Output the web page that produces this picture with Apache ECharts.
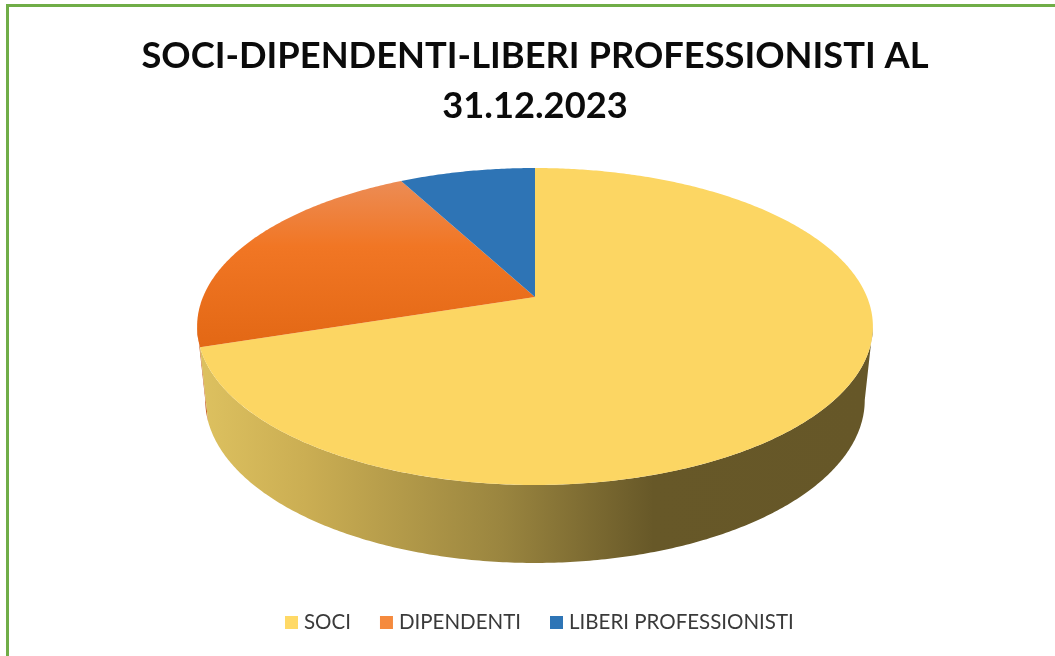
<!DOCTYPE html>
<html><head><meta charset="utf-8">
<style>html,body{margin:0;padding:0;background:#fff}#c{width:1055px;height:656px}</style>
<script src="https://cdn.jsdelivr.net/npm/echarts@6/dist/echarts.min.js"></script>
</head><body><div id="c"></div>
<script>
const categories = ['SOCI', 'DIPENDENTI', 'LIBERI PROFESSIONISTI'];
const values = [63, 20, 7];
const titleLines = ['SOCI-DIPENDENTI-LIBERI PROFESSIONISTI AL', '31.12.2023'];

const total = values.reduce((a, b) => a + b, 0);
const startFrac = [];
values.reduce((acc, v, i) => { startFrac[i] = acc / total; return acc + v; }, 0);

const persp = 0.186;
const topFace = {cx: 535, y0: 297, a: 332, b: 153};
const botFace = {cx: 535, y0: 369.7, a: 324, b: 157.3};
// angular range of the rim that faces the viewer (between the two silhouette tangents)
const frontLo = Math.acos(-persp), frontHi = Math.PI * 2 - frontLo;

function proj(f, ang) {
  const u = Math.sin(ang), v = Math.cos(ang), w = 1 + persp * v;
  return [f.cx + f.a * u / w, f.y0 - f.b * v / w];
}
function arc(f, a0, a1) {
  const n = Math.max(2, Math.ceil((a1 - a0) / 0.01));
  const pts = [];
  for (let i = 0; i <= n; i++) pts.push(proj(f, a0 + (a1 - a0) * i / n));
  return pts;
}
function grad(x, y, x2, y2, stops) {
  return {type: 'linear', x, y, x2, y2, global: true,
    colorStops: stops.map(s => ({offset: s[0], color: s[1]}))};
}
const wallFill = [
  grad(206, 0, 864, 0, [[0, '#DCC05F'], [0.15, '#CBAE53'], [0.45, '#9A853F'], [0.68, '#675828'], [1, '#665728']]),
  '#C4591A',
  '#1F4E79'
];
const topFill = [
  '#FCD663',
  grad(0, 181, 0, 345, [[0, '#EC8C55'], [0.4, '#F17624'], [1, '#E36815']]),
  '#2E74B5'
];
const legendColor = [
  '#FFD966',
  grad(0, 616, 0, 629, [[0, '#F58A3E'], [1, '#E96F1C']]),
  '#2E75B6'
];

function sliceAngles(i) {
  const a0 = startFrac[i] * Math.PI * 2;
  return [a0, a0 + values[i] / total * Math.PI * 2];
}
function wallRenderer(i) {
  return function () {
    const [a0, a1] = sliceAngles(i);
    const lo = Math.max(a0, frontLo), hi = Math.min(a1, frontHi);
    if (hi <= lo) return null;
    const pts = arc(topFace, lo, hi).concat(arc(botFace, lo, hi).reverse());
    return {type: 'polygon', shape: {points: pts}, style: {fill: wallFill[i]}};
  };
}
function topRenderer(i) {
  return function () {
    const [a0, a1] = sliceAngles(i);
    const pts = arc(topFace, a0, a1);
    pts.push([topFace.cx, topFace.y0]);
    return {type: 'polygon', shape: {points: pts}, style: {fill: topFill[i]}};
  };
}
const series = [];
[2, 1, 0].forEach(i => series.push({
  type: 'custom', name: categories[i] + ' wall', coordinateSystem: 'none', silent: true,
  renderItem: wallRenderer(i), data: [[values[i]]], z: 2
}));
categories.forEach((c, i) => series.push({
  type: 'custom', name: c, coordinateSystem: 'none', silent: true,
  renderItem: topRenderer(i), data: [[values[i]]], z: 3,
  itemStyle: {color: legendColor[i]}
}));

const chart = echarts.init(document.getElementById('c'), null, {renderer: 'canvas'});
chart.setOption({
  animation: false,
  backgroundColor: '#fff',
  title: {
    text: titleLines.join('\n'), left: 530, top: 26, textAlign: 'center',
    textStyle: {fontFamily: 'Lato', fontWeight: 'bold', fontSize: 36.3, lineHeight: 50, color: '#0b0b0b'}
  },
  legend: {
    data: categories, left: 285, top: 612, padding: 0, itemWidth: 13, itemHeight: 13, itemGap: 29,
    icon: 'rect', selectedMode: false,
    textStyle: {fontFamily: 'Lato', fontSize: 20.5, color: '#3a3a3a', padding: [0, 0, 0, 1]}
  },
  graphic: [
    {type: 'polyline', shape: {points: [[7.5, 656], [7.5, 5.5], [1055, 5.5]]}, silent: true,
     style: {stroke: '#70AD47', lineWidth: 3, fill: null}}
  ],
  series
});
</script></body></html>
